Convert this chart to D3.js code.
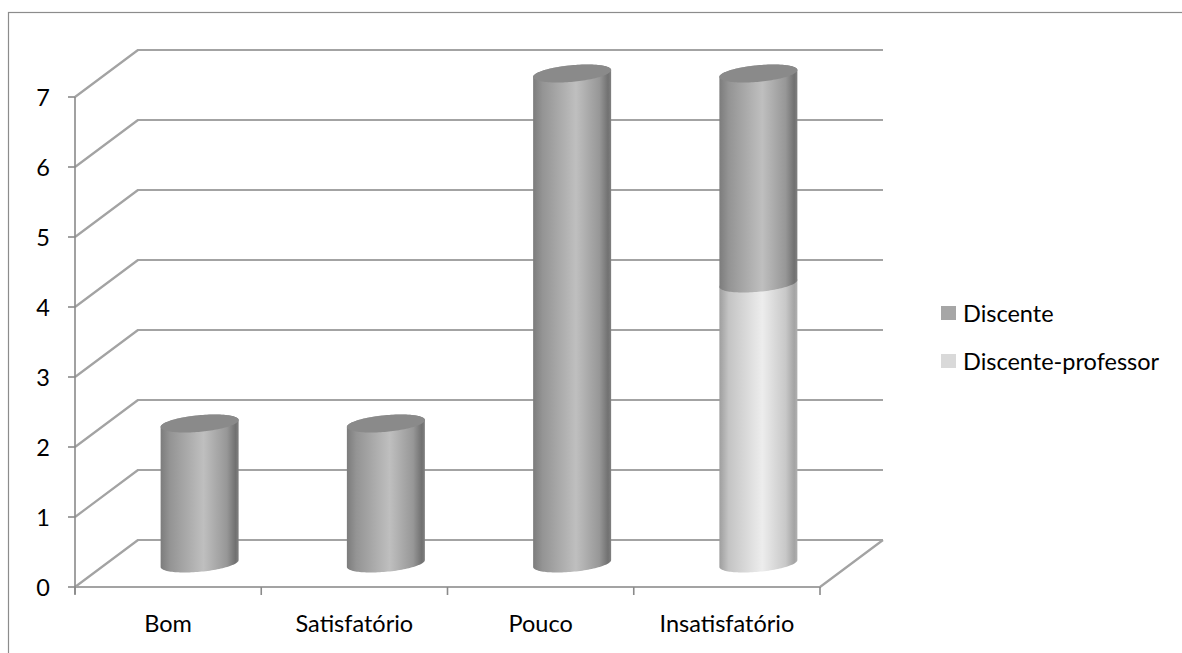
<!DOCTYPE html>
<html>
<head>
<meta charset="utf-8">
<script src="https://cdn.jsdelivr.net/npm/d3@7"></script>
<style>
  html, body { margin: 0; padding: 0; background: #fff; }
  svg { display: block; }
  text { font-family: Lato, "Open Sans", sans-serif; fill: #000; }
</style>
</head>
<body>
<svg id="chart" width="1182" height="653"></svg>
<script>
// ---- data ----
const categories = ["Bom", "Satisfatório", "Pouco", "Insatisfatório"];
const seriesNames = ["Discente", "Discente-professor"];
const discente = [2, 2, 7, 3];
const discenteProfessor = [0, 0, 0, 4];
const yTicks = [0, 1, 2, 3, 4, 5, 6, 7];

// ---- layout ----
const front = { left: 75, right: 820, bottom: 587, top: 97 };
const depth = { dx: 63, dy: -47 };   // receding vector of the 3D box
const cylDepth = 0.5;                 // cylinders sit mid-way in depth
const fontSize = 23.5;

const svg = d3.select("#chart");

const x = d3.scaleBand().domain(categories).range([front.left, front.right]);
const y = d3.scaleLinear().domain([0, 7]).range([front.bottom, front.top]);

// gradients for the cylinder bodies
const defs = svg.append("defs");
function grad(id, stops) {
  const g = defs.append("linearGradient").attr("id", id)
    .attr("x1", "0").attr("y1", "0").attr("x2", "1").attr("y2", "0");
  stops.forEach(([o, c]) => g.append("stop").attr("offset", o).attr("stop-color", c));
}
grad("gDark", [[0, "#7c7c7c"], [0.12, "#949494"], [0.55, "#bfbfbf"], [0.85, "#979797"], [0.96, "#717171"], [1, "#808080"]]);
grad("gLight", [[0, "#9e9e9e"], [0.12, "#c4c4c4"], [0.55, "#ededed"], [0.85, "#c8c8c8"], [0.96, "#a4a4a4"], [1, "#b0b0b0"]]);

// outer frame
svg.append("rect")
  .attr("x", 8.5).attr("y", 12.5).attr("width", 1300).attr("height", 800)
  .attr("fill", "none").attr("stroke", "#8c8c8c").attr("stroke-width", 1.2);

const grid = svg.append("g")
  .attr("fill", "none").attr("stroke", "#a3a3a3").attr("stroke-width", 2.2)
  .attr("stroke-linejoin", "round");

// side wall diagonals and back wall gridlines
yTicks.forEach(v => {
  const yf = y(v);
  grid.append("path")
    .attr("d", `M${front.left},${yf}L${front.left + depth.dx},${yf + depth.dy}L${front.right + depth.dx},${yf + depth.dy}`);
});

// floor front and right edges
grid.append("path")
  .attr("d", `M${front.left},${front.bottom}L${front.right},${front.bottom}L${front.right + depth.dx},${front.bottom + depth.dy}`);

// vertical value axis with ticks
const axisG = svg.append("g").attr("stroke", "#8a8a8a").attr("stroke-width", 1.6);
axisG.append("line")
  .attr("x1", front.left).attr("x2", front.left)
  .attr("y1", y(7)).attr("y2", front.bottom + 7);
yTicks.forEach(v => {
  axisG.append("line")
    .attr("x1", front.left - 7).attr("x2", front.left)
    .attr("y1", y(v)).attr("y2", y(v));
});
// category boundary ticks
const bounds = categories.map(c => x(c)).concat([front.right]);
bounds.forEach(bx => {
  axisG.append("line")
    .attr("x1", bx).attr("x2", bx)
    .attr("y1", front.bottom).attr("y2", front.bottom + 8);
});

// value labels
svg.append("g").selectAll("text").data(yTicks).join("text")
  .attr("x", 50).attr("y", d => y(d))
  .attr("text-anchor", "end").attr("dominant-baseline", "central")
  .attr("font-size", fontSize)
  .text(d => d);

// category labels
svg.append("g").selectAll("text").data(categories).join("text")
  .attr("x", d => x(d) + x.bandwidth() / 2).attr("y", 632)
  .attr("text-anchor", "middle")
  .attr("font-size", fontSize)
  .text(d => d);

// ---- cylinders ----
// cross-section ellipse: x = cx + rx cos t + ezx sin t, y = cy + ezy sin t
const rx = 36, ezx = 15, ezy = -9;
function ellipsePt(cx, cy, t) {
  return [cx + rx * Math.cos(t) + ezx * Math.sin(t), cy + ezy * Math.sin(t)];
}
const tR = Math.atan2(ezx, rx);       // right silhouette point
const tL = tR + Math.PI;              // left silhouette point
const line = d3.line();

function centre(cat, v) {
  const cx = x(cat) + x.bandwidth() / 2 + depth.dx * cylDepth;
  const cy = y(v) + depth.dy * cylDepth;
  return [cx, cy];
}

function cylinder(g, cat, v0, v1, fill, capFill) {
  const [cx, cy0] = centre(cat, v0);
  const [, cy1] = centre(cat, v1);
  const n = 60;
  const body = [];
  // front half of the bottom ellipse, left -> right
  for (let i = 0; i <= n; i++) body.push(ellipsePt(cx, cy0, tL + (Math.PI * i) / n));
  // back half of the top ellipse, right -> left
  for (let i = 0; i <= n; i++) body.push(ellipsePt(cx, cy1, tR + (Math.PI * i) / n));
  g.append("path").attr("d", line(body) + "Z").attr("fill", fill);
  if (capFill) {
    const cap = [];
    for (let i = 0; i <= 2 * n; i++) cap.push(ellipsePt(cx, cy1, (Math.PI * i) / n));
    g.append("path").attr("d", line(cap) + "Z").attr("fill", capFill);
  }
}

const bars = svg.append("g");
categories.forEach((cat, i) => {
  const base = discenteProfessor[i];
  const total = base + discente[i];
  if (base > 0) cylinder(bars, cat, 0, base, "url(#gLight)", total > base ? null : "#dcdcdc");
  if (discente[i] > 0) cylinder(bars, cat, base, total, "url(#gDark)", "#8a8a8a");
});

// ---- legend ----
const legend = svg.append("g").attr("transform", "translate(941,0)");
const legendColors = ["#a6a6a6", "#d9d9d9"];
const legendY = [313, 361];
seriesNames.forEach((name, i) => {
  legend.append("rect")
    .attr("x", 0).attr("y", legendY[i] - 7).attr("width", 15).attr("height", 14)
    .attr("fill", legendColors[i]);
  legend.append("text")
    .attr("x", 22).attr("y", legendY[i]).attr("dominant-baseline", "central")
    .attr("font-size", fontSize)
    .text(name);
});
</script>
</body>
</html>
